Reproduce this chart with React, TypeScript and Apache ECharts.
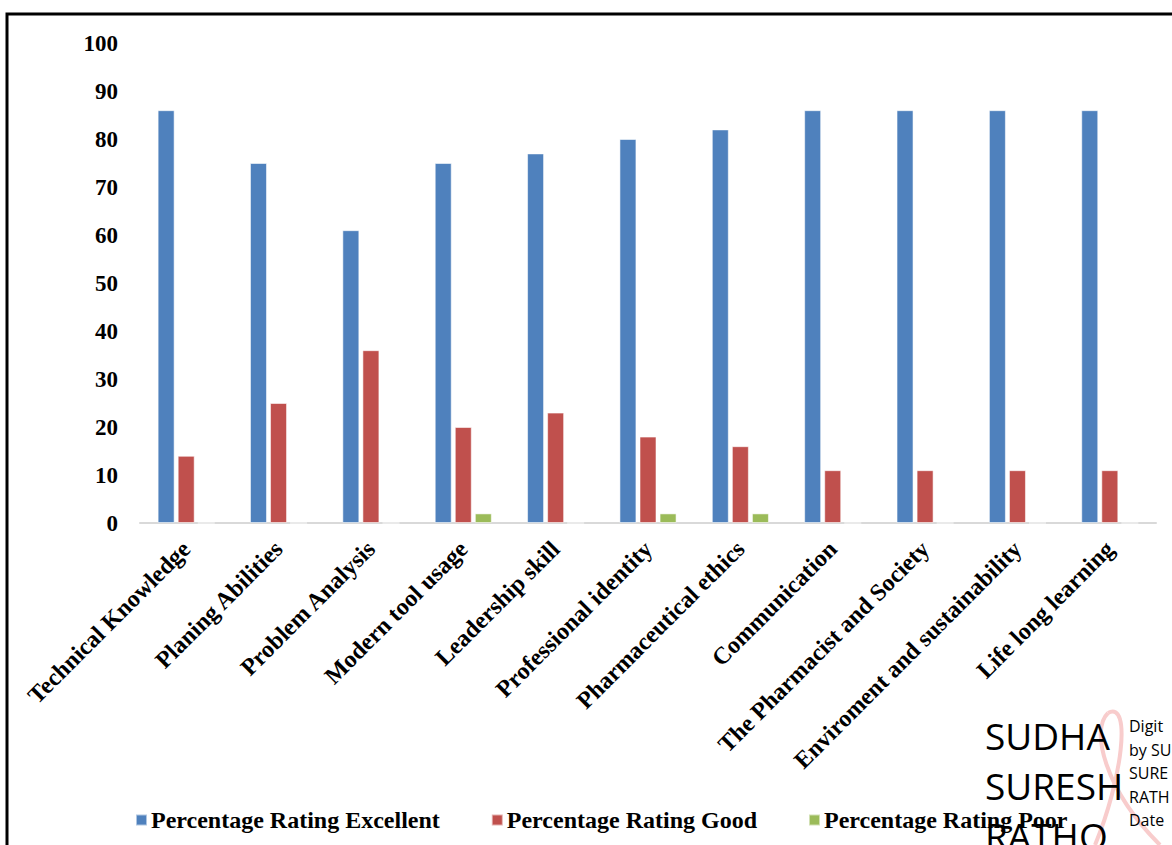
import React, { useEffect, useRef } from "react";
import * as echarts from "echarts";

const categories = [
  "Technical Knowledge",
  "Planing Abilities",
  "Problem Analysis",
  "Modern tool usage",
  "Leadership skill",
  "Professional identity",
  "Pharmaceutical ethics",
  "Communication",
  "The Pharmacist and Society",
  "Enviroment and sustainability",
  "Life long learning",
];
const excellent = [86, 75, 61, 75, 77, 80, 82, 86, 86, 86, 86];
const good = [14, 25, 36, 20, 23, 18, 16, 11, 11, 11, 11];
const poor = [0, 0, 0, 2, 0, 2, 2, 0, 0, 0, 0];
const seriesNames = [
  "Percentage Rating Excellent",
  "Percentage Rating Good",
  "Percentage Rating Poor",
];
const watermarkBig = ["SUDHA", "SURESH", "RATHO"];
const watermarkSmall = ["Digit", "by SU", "SURE", "RATH", "Date"];

const SERIF = "'Liberation Serif', 'Times New Roman', serif";

export default function App() {
  const ref = useRef<HTMLDivElement>(null);
  useEffect(() => {
    if (!ref.current) return;
    const chart = echarts.init(ref.current, null, { renderer: "svg" });
    const colors = ["#4F81BD", "#C0504D", "#9BBB59"];
    const mk = (name: string, data: number[], i: number) => ({
      name,
      type: "bar",
      data,
      barWidth: 17,
      barGap: "18%",
      itemStyle: {
        color: colors[i],
        borderColor: "rgba(255,255,255,0.55)",
        borderWidth: 1,
      },
    });
    chart.setOption({
      animation: false,
      backgroundColor: "#ffffff",
      color: colors,
      grid: { left: 140, right: 16, top: 43, bottom: 322, containLabel: false },
      xAxis: {
        type: "category",
        data: categories,
        axisLine: { show: true, lineStyle: { color: "#d9d9d9", width: 2 } },
        axisTick: { show: false },
        axisLabel: {
          interval: 0,
          rotate: 45,
          margin: 22,
          fontFamily: SERIF,
          fontWeight: "bold",
          fontSize: 24,
          color: "#000",
        },
      },
      yAxis: {
        type: "value",
        min: 0,
        max: 100,
        interval: 10,
        splitLine: { show: false },
        axisLine: { show: false },
        axisTick: { show: false },
        axisLabel: {
          margin: 22,
          fontFamily: SERIF,
          fontWeight: "bold",
          fontSize: 23,
          color: "#000",
        },
      },
      legend: {
        data: seriesNames,
        left: 130,
        top: 803,
        itemWidth: 11,
        itemHeight: 11,
        itemGap: 51,
        icon: "rect",
        textStyle: {
          fontFamily: SERIF,
          fontWeight: "bold",
          fontSize: 24,
          color: "#000",
          padding: [0, 0, 0, -1],
        },
      },
      series: [mk(seriesNames[0], excellent, 0), mk(seriesNames[1], good, 1), mk(seriesNames[2], poor, 2)],
      graphic: [
        {
          type: "rect",
          shape: { x: 7, y: 14, width: 1300, height: 1000 },
          style: { fill: "none", stroke: "#000", lineWidth: 3 },
          silent: true,
        },
        {
          type: "bezierCurve",
          shape: { x1: 1095, y1: 845, x2: 1108, y2: 713, cpx1: 1122, cpy1: 780, cpx2: 1132, cpy2: 700 },
          style: { stroke: "#f8cccc", lineWidth: 4, fill: "none" },
          silent: true,
          z: 0,
        },
        {
          type: "bezierCurve",
          shape: { x1: 1108, y1: 713, x2: 1160, y2: 845, cpx1: 1090, cpy1: 730, cpx2: 1105, cpy2: 790 },
          style: { stroke: "#f8cccc", lineWidth: 4, fill: "none" },
          silent: true,
          z: 0,
        },
        ...watermarkBig.map((t, i) => ({
          type: "text",
          left: 985,
          top: 717 + i * 50,
          z: 10,
          style: {
            text: t,
            fontFamily: "'Open Sans', sans-serif",
            fontSize: 37,
            fill: "#000",
          },
          silent: true,
        })),
        ...watermarkSmall.map((t, i) => ({
          type: "text",
          left: 1129,
          top: 716 + i * 23.5,
          z: 10,
          style: {
            text: t,
            fontFamily: "'Open Sans', sans-serif",
            fontSize: 16,
            lineHeight: 20,
            fill: "#000",
          },
          silent: true,
        })),
      ],
    });
    return () => chart.dispose();
  }, []);
  return (
    <div
      ref={ref}
      style={{ position: "absolute", left: 0, top: 0, width: 1172, height: 845 }}
    />
  );
}
